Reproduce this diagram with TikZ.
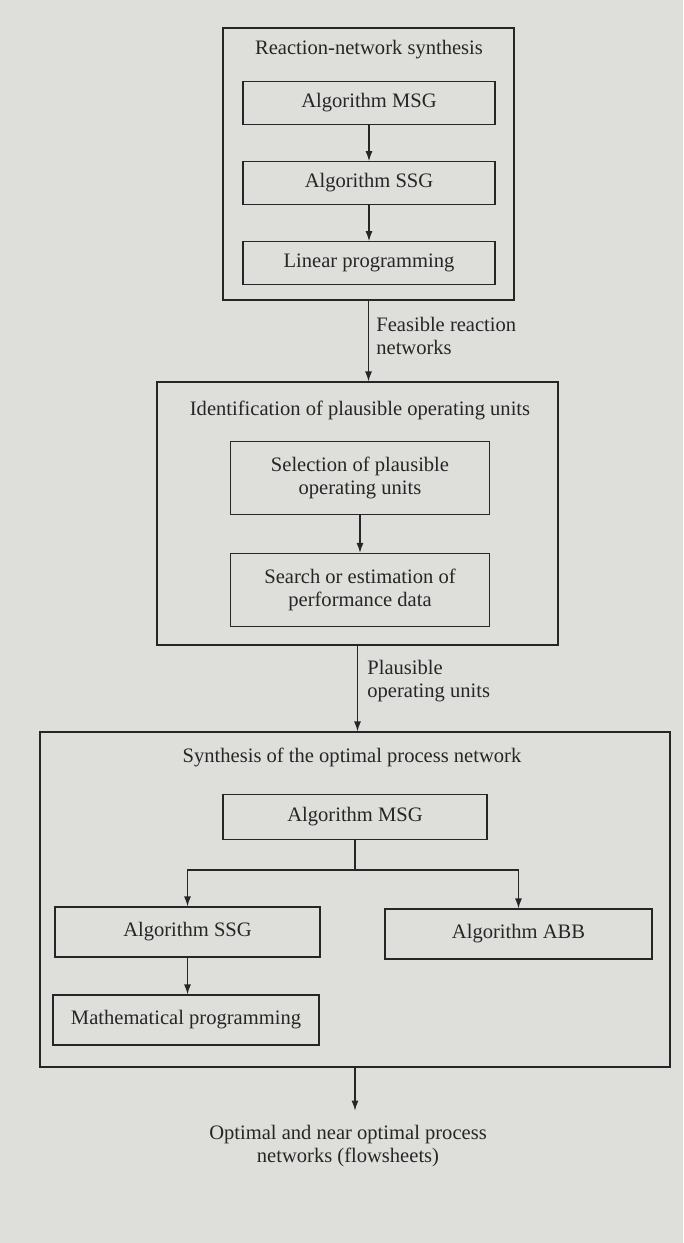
\documentclass[tikz,border=0pt]{standalone}
\usepackage{fontspec}
\setmainfont{Liberation Serif}
\usetikzlibrary{calc,arrows.meta}

\begin{document}
\begin{tikzpicture}[>={Latex[length=2mm,width=1.4mm]}, x=0.02cm, y=-0.02cm]

\definecolor{paper}{rgb}{0.87,0.87,0.86}
\definecolor{ink}{rgb}{0.15,0.15,0.15}
\def\labfont{\fontsize{11.7}{13.5}\selectfont}

\tikzset{
  frame/.style={draw=ink, line width=0.7pt, inner sep=0pt},
  unit/.style={draw=ink, line width=0.7pt, align=center, font=\labfont, text=ink, inner sep=2pt},
  lab/.style={align=left, font=\labfont, text=ink, inner sep=0pt},
  flow/.style={->, draw=ink, line width=0.7pt}
}

\fill[paper] (0,0) rectangle (683,1243);

% reaction-network synthesis
\node[frame, minimum width=5.82cm, minimum height=5.44cm] (synA) at (368.5,164) {};
\node[lab] (titA) at (369,50) {Reaction-network synthesis};
\foreach \n/\y/\t in {msgA/103/Algorithm MSG, ssgA/183/Algorithm SSG, lpA/263/Linear programming}{
  \node[unit, minimum width=5.04cm, minimum height=0.85cm] (\n) at (369,\y) {\t};
}
\draw[flow] (msgA) -- (ssgA);
\draw[flow] (ssgA) -- (lpA);

% identification of plausible operating units
\node[frame, minimum width=8.02cm, minimum height=5.26cm] (idB) at (357.5,513.5) {};
\node[lab] (titB) at (360,410) {Identification of plausible operating units};
\node[unit, minimum width=5.18cm, minimum height=1.46cm] (selB) at (360,478) {Selection of plausible\\operating units};
\node[unit, minimum width=5.18cm, minimum height=1.46cm] (srchB) at (360,590) {Search or estimation of\\performance data};
\draw[flow] (selB) -- (srchB);

\draw[flow] (synA.south) -- (synA.south |- idB.north);
\node[lab, anchor=west] (feas) at (376,336) {Feasible reaction\\networks};

% synthesis of the optimal process network
\node[frame, minimum width=12.6cm, minimum height=6.7cm] (optC) at (355,899.5) {};
\node[lab] (titC) at (352,757) {Synthesis of the optimal process network};
\node[unit, minimum width=5.28cm, minimum height=0.9cm] (msgC) at (355,817) {Algorithm MSG};
\node[unit, minimum width=5.3cm, minimum height=1cm] (ssgC) at (187.5,932) {Algorithm SSG};
\node[unit, minimum width=5.34cm, minimum height=1cm] (abbC) at (518.5,934) {Algorithm ABB};
\node[unit, minimum width=5.32cm, minimum height=1cm] (mathC) at (186,1020) {Mathematical programming};

\coordinate (fork) at (355,870);
\draw[draw=ink, line width=0.7pt] (msgC.south) -- (fork);
\draw[flow] (fork) -| (ssgC.north);
\draw[flow] (fork) -| (abbC.north);
\draw[flow] (ssgC.south) -- (ssgC.south |- mathC.north);

\draw[flow] (idB.south) -- (idB.south |- optC.north);
\node[lab, anchor=west] (plaus) at (367,681) {Plausible\\operating units};

% result
\node[lab, align=center] (res) at (348,1146) {Optimal and near optimal process\\networks (flowsheets)};
\draw[flow] (optC.south) -- ++(0,43);

\end{tikzpicture}
\end{document}
